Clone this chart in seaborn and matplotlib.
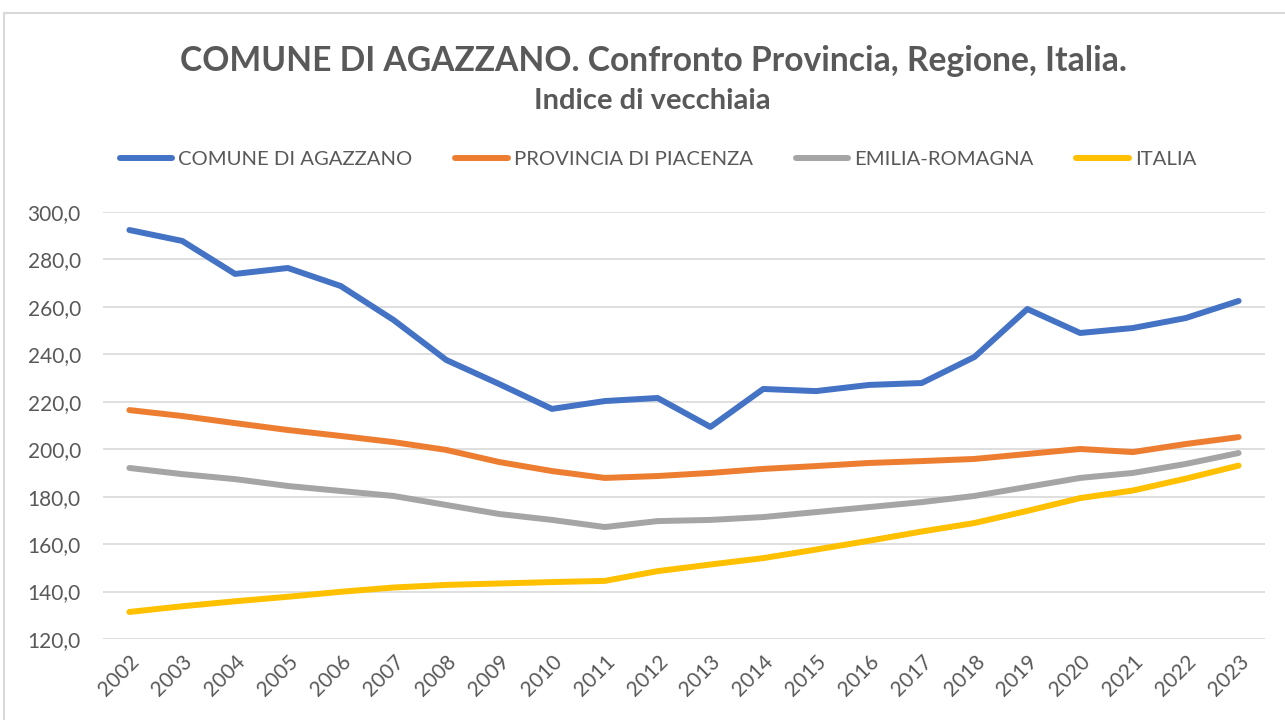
import matplotlib
matplotlib.use("Agg")
import matplotlib.pyplot as plt
import seaborn as sns
import pandas as pd
from matplotlib.patches import Rectangle
from matplotlib.lines import Line2D
from matplotlib.ticker import FuncFormatter

# dati
anni = list(range(2002, 2024))
comune = [292.4, 287.8, 273.9, 276.4, 268.8, 254.5, 237.6, 227.5, 217.0, 220.3, 221.6,
          209.4, 225.4, 224.5, 227.1, 227.9, 238.9, 259.1, 249.0, 251.1, 255.3, 262.5]
provincia = [216.5, 214.0, 211.0, 208.1, 205.6, 203.0, 199.7, 194.6, 190.8, 187.9, 188.7,
             190.0, 191.7, 192.9, 194.2, 195.0, 195.9, 198.0, 200.1, 198.8, 202.2, 205.1]
regione = [192.1, 189.5, 187.4, 184.5, 182.4, 180.3, 176.5, 172.7, 170.2, 167.2, 169.7,
           170.2, 171.4, 173.5, 175.6, 177.7, 180.3, 184.1, 187.9, 190.0, 193.8, 198.4]
italia = [131.4, 133.8, 135.9, 137.8, 139.9, 141.7, 142.8, 143.4, 144.0, 144.5, 148.6,
          151.4, 154.1, 157.7, 161.4, 165.3, 168.9, 174.0, 179.4, 182.6, 187.6, 193.1]
serie = ["COMUNE DI AGAZZANO", "PROVINCIA DI PIACENZA", "EMILIA-ROMAGNA", "ITALIA"]
colori = ["#4472C4", "#ED7D31", "#A5A5A5", "#FFC000"]

df = pd.DataFrame({"anno": anni * 4,
                   "valore": comune + provincia + regione + italia,
                   "serie": [s for s in serie for _ in anni]})

sns.set_style("white")
plt.rcParams["font.family"] = ["Lato", "DejaVu Sans"]
testo = "#595959"

fig = plt.figure(figsize=(12.85, 7.2), dpi=100)
ax = fig.add_axes([103 / 1285, 81 / 720, 1162 / 1285, 427 / 720])

sns.lineplot(data=df, x="anno", y="valore", hue="serie", hue_order=serie,
             palette=colori, linewidth=4.3, ax=ax, zorder=3, legend=False)

ax.set_xlim(2001.5, 2023.5)
ax.set_ylim(120, 300)
ax.set_yticks(range(120, 301, 20))
ax.yaxis.set_major_formatter(FuncFormatter(lambda v, p: f"{v:.1f}".replace(".", ",")))
ax.set_xticks(anni)
ax.set_xticklabels([str(a) for a in anni], rotation=45, ha="right", rotation_mode="anchor")
ax.tick_params(axis="both", length=0, labelsize=15, colors=testo)
ax.tick_params(axis="x", pad=9)
ax.tick_params(axis="y", pad=16)
ax.grid(axis="y", color="#D9D9D9", linewidth=1.2, zorder=1)
ax.grid(axis="x", visible=False)
for s in ax.spines.values():
    s.set_visible(False)
ax.set_xlabel("")
ax.set_ylabel("")

# legenda
handles = [Line2D([], [], color=c, linewidth=4.3) for c in colori]
leg = fig.legend(handles, serie, loc="center", bbox_to_anchor=(658 / 1285, 1 - 159 / 720),
                 ncol=4, frameon=False, fontsize=14.6, handlelength=2.6,
                 handletextpad=0.3, columnspacing=2.1)
for t in leg.get_texts():
    t.set_color(testo)

# titoli
fig.text(653 / 1285, 1 - 61 / 720, "COMUNE DI AGAZZANO. Confronto Provincia, Regione, Italia.",
         ha="center", va="center", fontsize=24.2, fontweight="bold", color=testo)
fig.text(652 / 1285, 1 - 101 / 720, "Indice di vecchiaia", ha="center", va="center",
         fontsize=21, fontweight="bold", color=testo)

# bordo del grafico
fig.patches.append(Rectangle((4 / 1285, -0.1), 1.2, 1.1 - 13 / 720, transform=fig.transFigure,
                             fill=False, edgecolor="#D9D9D9", linewidth=1.5))

fig.savefig("out.png", dpi=100)
